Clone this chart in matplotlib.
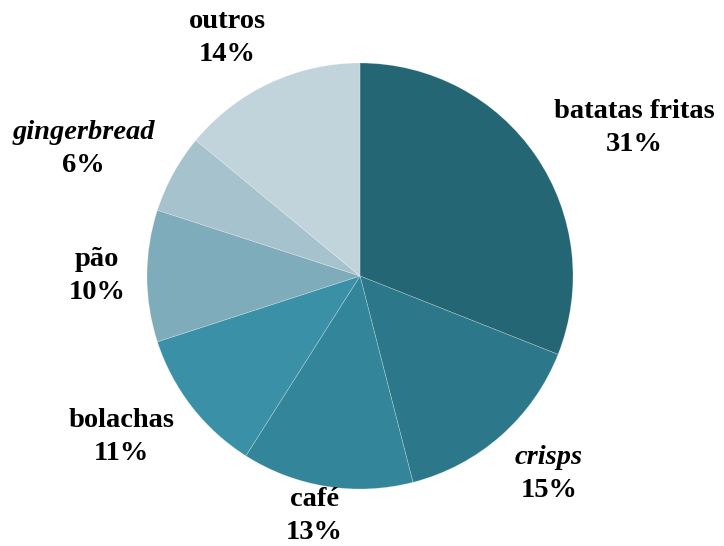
import numpy as np
import matplotlib
matplotlib.use("Agg")
import matplotlib.pyplot as plt
from matplotlib.transforms import IdentityTransform

# Share of snack consumption by category
categories = ["batatas fritas", "crisps", "café", "bolachas", "pão", "gingerbread", "outros"]
shares = [31, 15, 13, 11, 10, 6, 14]
italic_names = ["crisps", "gingerbread"]
colors = ["#246673", "#2c788a", "#33869a", "#3a91a7", "#7eacba", "#a6c2cc", "#c1d4db"]

W_PX, H_PX, DPI = 724, 546, 100
fig = plt.figure(figsize=(W_PX / DPI, H_PX / DPI), dpi=DPI)
ax = fig.add_axes([0, 0, 1, 1])

wedges, _ = ax.pie(
    shares, colors=colors, startangle=90, counterclock=False, radius=1,
    wedgeprops=dict(edgecolor=(1, 1, 1, 0.3), linewidth=0.5),
)

# one data unit = pie radius in pixels
scale = 213.0
cx0, cy0 = 360.0, H_PX - 276.0
ax.set_xlim(-cx0 / scale, (W_PX - cx0) / scale)
ax.set_ylim(-cy0 / scale, (H_PX - cy0) / scale)
ax.set_aspect("equal")
ax.axis("off")

fig.canvas.draw()
renderer = fig.canvas.get_renderer()
font = dict(family="Liberation Serif", weight="bold", size=20.5)
line_gap = 33.0

for w, name, val in zip(wedges, categories, shares):
    ang = np.deg2rad((w.theta1 + w.theta2) / 2)
    c, s = np.cos(ang), np.sin(ang)
    ax_x, ax_y = ax.transData.transform((1.1 * c, 1.1 * s))
    t1 = ax.text(0, 0, name, style="italic" if name in italic_names else "normal",
                 ha="center", va="center", transform=IdentityTransform(), **font)
    t2 = ax.text(0, 0, f"{val}%", ha="center", va="center",
                 transform=IdentityTransform(), **font)
    e1 = t1.get_window_extent(renderer)
    e2 = t2.get_window_extent(renderer)
    bw = max(e1.width, e2.width)
    bh = line_gap + e2.height
    bx = ax_x + np.clip(2 * c, -1, 1) * bw / 2
    by = ax_y + s * bh / 2
    by = min(max(by, bh / 2 + 1), H_PX - bh / 2 - 1)
    bx = min(max(bx, bw / 2 + 2), W_PX - bw / 2 - 2)
    t1.set_position((bx, by + line_gap / 2))
    t2.set_position((bx, by - line_gap / 2))

fig.savefig("out.png", dpi=DPI)
